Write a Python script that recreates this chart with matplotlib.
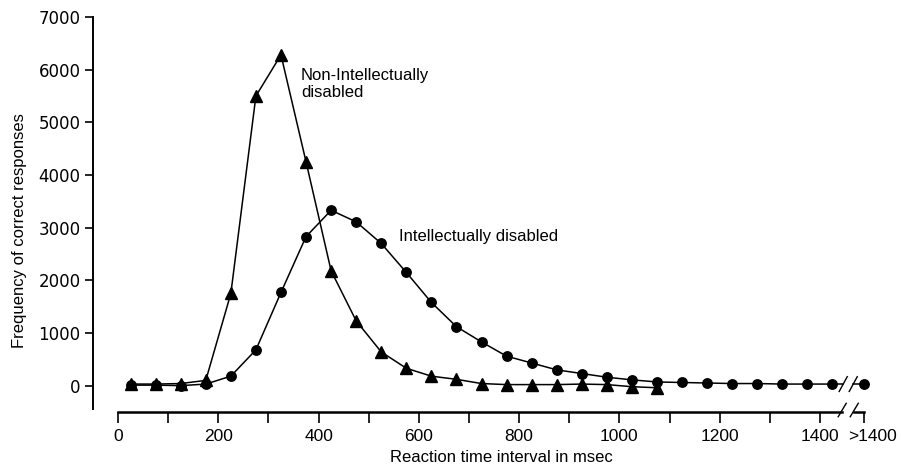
import numpy as np
import matplotlib.pyplot as plt
import matplotlib.transforms as mtransforms

plt.rcParams['font.family'] = ['Liberation Sans', 'DejaVu Sans']

# bin centres (msec); the last circle is the ">1400" bin
rt_non = [25, 75, 125, 175, 225, 275, 325, 375, 425, 475, 525, 575, 625, 675,
          725, 775, 825, 875, 925, 975, 1025, 1075]
freq_non = [30, 30, 40, 100, 1750, 5500, 6280, 4250, 2180, 1230, 640, 330, 180, 120,
            40, 20, 20, 20, 30, 20, -20, -40]

rt_id = [25, 75, 125, 175, 225, 275, 325, 375, 425, 475, 525, 575, 625, 675,
         725, 775, 825, 875, 925, 975, 1025, 1075, 1125, 1175, 1225, 1275,
         1325, 1375, 1425, 1488]
freq_id = [10, 10, 0, 30, 180, 680, 1770, 2830, 3330, 3110, 2700, 2150, 1580, 1120,
           830, 560, 430, 300, 230, 160, 110, 70, 60, 50, 40, 40,
           30, 30, 30, 30]

xticks = [0, 200, 400, 600, 800, 1000, 1200, 1400, 1488]
xlabels = ['0', '200', '400', '600', '800', '1000', '1200', '1400', '>1400']
yticks = [0, 1000, 2000, 3000, 4000, 5000, 6000, 7000]

fig = plt.figure(figsize=(9.01, 4.68), dpi=100)
ax = fig.add_axes([0.1032, 0.1197, 0.868, 0.844])

ax.plot(rt_non, freq_non, color='k', lw=1.1, marker='^', ms=8)
# broken line before the >1400 bin
ax.plot(rt_id[:-1], freq_id[:-1], color='k', lw=1.1, marker='o', ms=6.8)
ax.plot(rt_id[-1], freq_id[-1], color='k', marker='o', ms=6.8)
x0, x1 = rt_id[-2], rt_id[-1]
xb = (x0 + x1) / 2
ax.plot([x0, xb - 10], [freq_id[-2], freq_id[-2]], color='k', lw=1.1)
ax.plot([xb + 10, x1], [freq_id[-1], freq_id[-1]], color='k', lw=1.1)
for dx in (-10, 10):
    ax.plot([xb + dx - 8, xb + dx + 8], [freq_id[-1] - 140, freq_id[-1] + 140], color='k', lw=1.0)

ax.set_xlim(-50, 1510)
ax.set_ylim(-500, 7000)

for s in ['top', 'right', 'bottom']:
    ax.spines[s].set_visible(False)
ax.spines['left'].set_bounds(-450, 7000)
ax.spines['left'].set_linewidth(1.4)

# x axis line with a break
trans = ax.get_xaxis_transform()
ax.plot([0, xb - 12], [0, 0], color='k', lw=1.8, transform=trans, clip_on=False)
ax.plot([xb + 12, x1], [0, 0], color='k', lw=1.8, transform=trans, clip_on=False)
for dx in (-12, 12):
    ax.plot([xb + dx - 8, xb + dx + 8], [-0.012, 0.022], color='k', lw=1.0,
            transform=trans, clip_on=False)

ax.set_xticks(xticks)
ax.set_xticklabels(xlabels)
ax.set_xticks(np.arange(100, 1400, 200), minor=True)
ax.tick_params(axis='x', which='both', direction='out', length=8, width=1.2,
               labelsize=12.5, pad=4)
ax.set_yticks(yticks)
ax.tick_params(axis='y', direction='out', length=6, width=1.2, labelsize=12, pad=3)
for lab in ax.get_yticklabels():
    lab.set_family('DejaVu Sans')

# push the ">1400" label a little to the right
last = ax.get_xticklabels()[-1]
last.set_transform(last.get_transform() +
                   mtransforms.ScaledTranslation(0.08, 0, fig.dpi_scale_trans))

ax.set_xlabel('Reaction time interval in msec', fontsize=12)
ax.xaxis.set_label_coords(0.522, -0.095)
ax.set_ylabel('Frequency of correct responses', fontsize=12)
ax.yaxis.set_label_coords(-0.085, 0.46)

ax.text(365, 5730, 'Non-Intellectually\ndisabled', fontsize=12, va='center',
        linespacing=1.15)
ax.text(560, 2830, 'Intellectually disabled', fontsize=12, va='center')

fig.savefig('out.png', dpi=100)
